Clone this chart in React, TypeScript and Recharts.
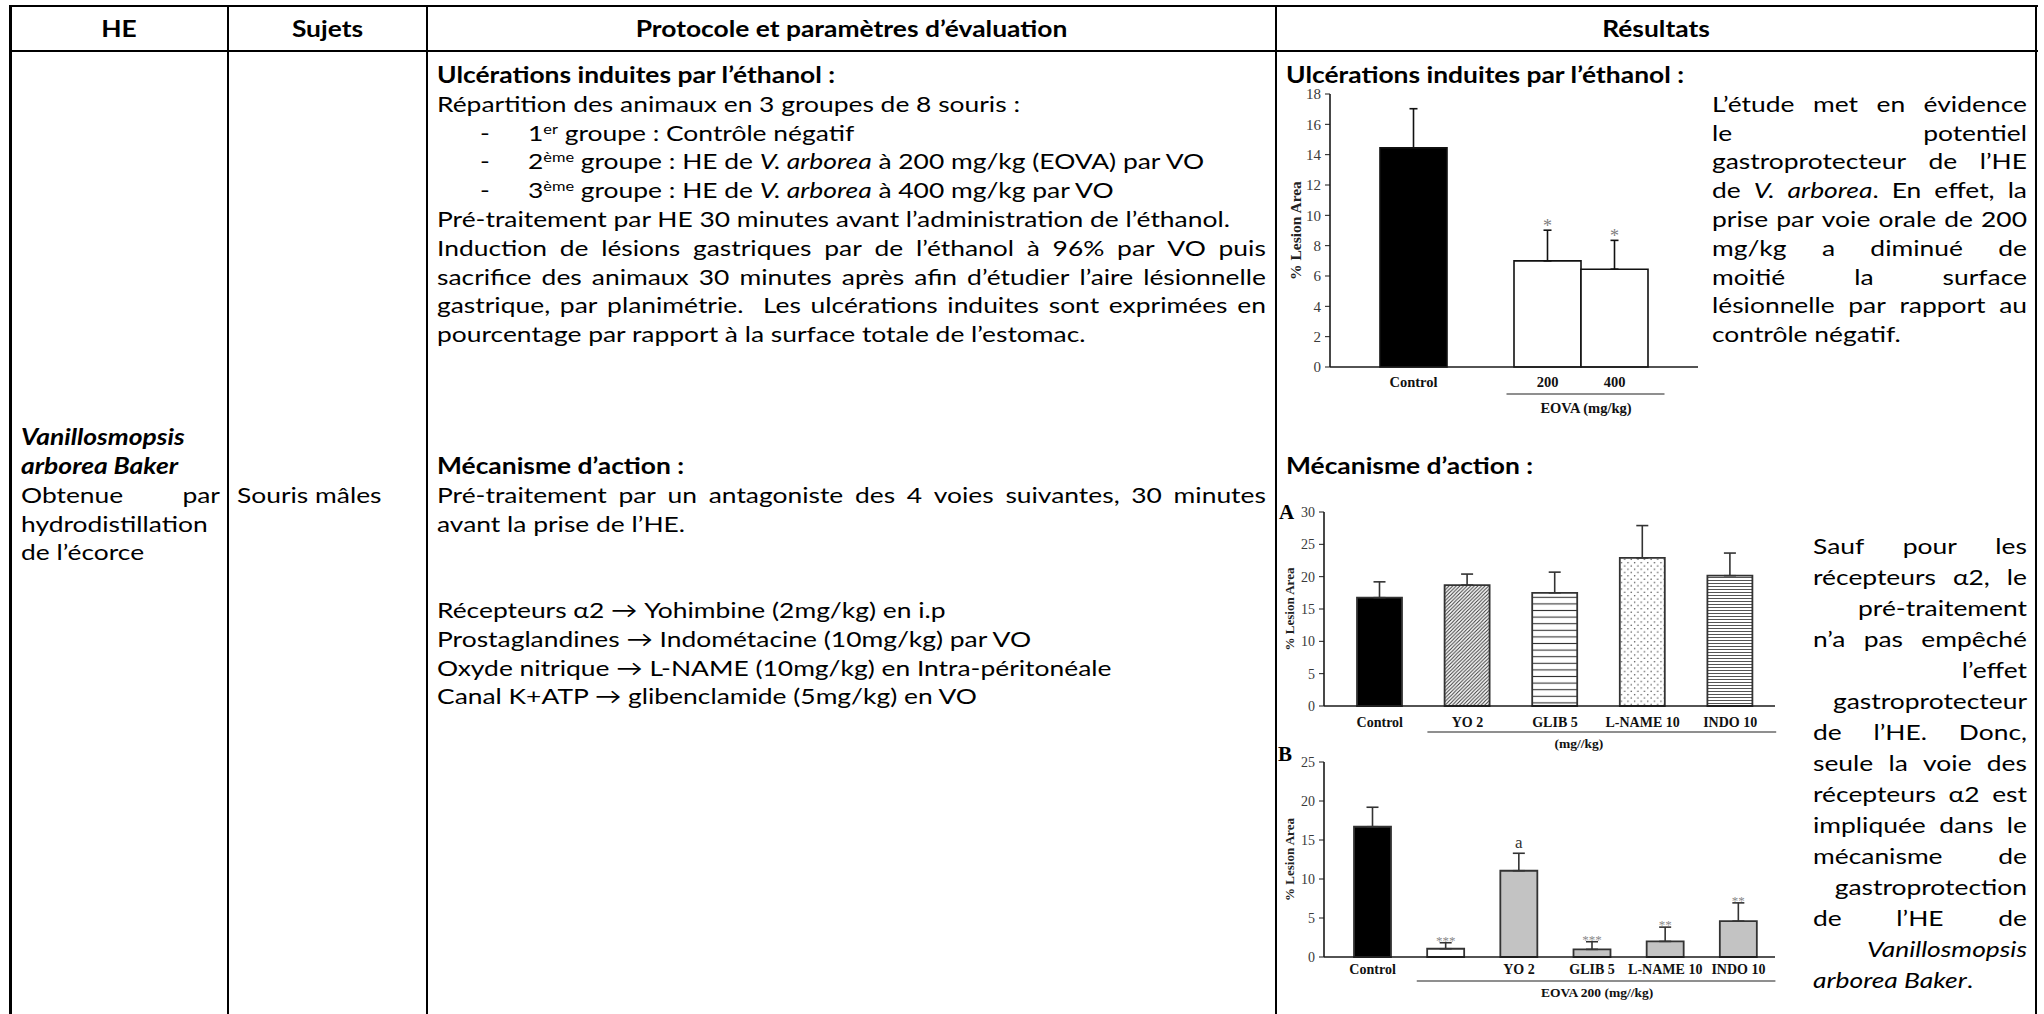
import React from 'react';
import { BarChart, Bar, XAxis, YAxis, ErrorBar, Cell, LabelList } from 'recharts';

/* ---------------- chart data ---------------- */
const ethCategories = ['Control', '', '200', '400'];
const ethMeans: (number | null)[] = [14.45, null, 7.0, 6.45];
const ethErrors: (number | null)[] = [2.58, null, 2.02, 1.9];
const ethSignif = ['', '', '*', '*'];
const ethTicks = [0, 2, 4, 6, 8, 10, 12, 14, 16, 18];

const mechACategories = ['Control', 'YO 2', 'GLIB 5', 'L-NAME 10', 'INDO 10'];
const mechAMeans = [16.75, 18.7, 17.5, 22.9, 20.15];
const mechAErrors = [2.45, 1.7, 3.2, 5.0, 3.5];
const mechATicks = [0, 5, 10, 15, 20, 25, 30];

const mechBCategories = ['Control', '', 'YO 2', 'GLIB 5', 'L-NAME 10', 'INDO 10'];
const mechBMeans = [16.7, 1.06, 11.06, 0.98, 2.0, 4.6];
const mechBErrors = [2.5, 0.77, 2.24, 0.98, 1.83, 2.34];
const mechBSignif = ['', '***', 'a', '***', '**', '**'];
const mechBTicks = [0, 5, 10, 15, 20, 25];

/* ---------------- styles ---------------- */
const ethFills = ['#000', '#fff', '#fff', '#fff'];
const mechAFills = ['#000', 'url(#patDiag)', 'url(#patLines)', 'url(#patDots)', 'url(#patDense)'];
const mechBFills = ['#000', '#fff', '#c3c3c3', '#c3c3c3', '#c3c3c3', '#c3c3c3'];

const SERIF = '"Liberation Serif", "Times New Roman", serif';
const SANS = 'Lato, "Open Sans", "DejaVu Sans", sans-serif';
const SX = 1.2;
const FS = 22;

/* ---------------- text helpers ---------------- */
function renderMarked(w: string) {
  const parts: React.ReactNode[] = [];
  let italic = false;
  let sup = false;
  let buf = '';
  const flush = () => {
    if (!buf) return;
    const style: React.CSSProperties = {};
    if (italic) style.fontStyle = 'italic';
    if (sup) {
      style.fontSize = '0.62em';
      style.verticalAlign = '0.55em';
      style.lineHeight = 0;
    }
    parts.push(
      <span key={parts.length} style={style}>
        {buf}
      </span>
    );
    buf = '';
  };
  for (const ch of w) {
    if (ch === '_') {
      flush();
      italic = !italic;
    } else if (ch === '^') {
      flush();
      sup = !sup;
    } else buf += ch;
  }
  flush();
  return parts;
}

type LineProps = { x: number; y: number; w: number; a?: 'l' | 'r' | 'j' | 'c'; t: string; b?: boolean; i?: boolean; fs?: number };

function TLine({ x, y, w, a = 'l', t, b = false, i = false, fs = FS }: LineProps) {
  const innerW = w / SX;
  let inner: React.ReactNode;
  if (a === 'j') {
    const words = t.split(' ');
    inner = (
      <div style={{ display: 'flex', justifyContent: 'space-between', width: innerW }}>
        {words.map((wd, k) => (
          <span key={k} style={{ whiteSpace: 'pre' }}>
            {renderMarked(wd)}
          </span>
        ))}
      </div>
    );
  } else {
    inner = (
      <div style={{ width: innerW, whiteSpace: 'pre', textAlign: a === 'r' ? 'right' : a === 'c' ? 'center' : 'left' }}>
        {renderMarked(t)}
      </div>
    );
  }
  return (
    <div
      style={{
        position: 'absolute',
        left: x,
        top: y - 15,
        height: 30,
        lineHeight: '30px',
        fontFamily: SANS,
        fontSize: fs,
        fontWeight: b ? 700 : 400,
        fontStyle: i ? 'italic' : 'normal',
        color: '#000',
        transform: `scaleX(${SX})`,
        transformOrigin: '0 0',
      }}
    >
      {inner}
    </div>
  );
}

/* ---------------- table layout ---------------- */
const COLS = [10, 228, 427, 1276, 2036];
const HEAD_TOP = 5;
const HEAD_BOTTOM = 50;
const Y0 = 75;
const DY = 28.8;
const YM = 466;
const RIGHT_TEXT = 2027;

const headers = ['HE', 'Sujets', 'Protocole et paramètres d’évaluation', 'Résultats'];

const protoTop: { t: string; b?: boolean; a?: 'l' | 'j'; bullet?: boolean }[] = [
  { t: 'Ulcérations induites par l’éthanol :', b: true },
  { t: 'Répartition des animaux en 3 groupes de 8 souris :' },
  { t: '1^er^ groupe : Contrôle négatif', bullet: true },
  { t: '2^ème^ groupe : HE de _V. arborea_ à 200 mg/kg (EOVA) par VO', bullet: true },
  { t: '3^ème^ groupe : HE de _V. arborea_ à 400 mg/kg par VO', bullet: true },
  { t: 'Pré-traitement par HE 30 minutes avant l’administration de l’éthanol.' },
  { t: 'Induction de lésions gastriques par de l’éthanol à 96% par VO puis', a: 'j' },
  { t: 'sacrifice des animaux 30 minutes après afin d’étudier l’aire lésionnelle', a: 'j' },
  { t: 'gastrique, par planimétrie.  Les ulcérations induites sont exprimées en', a: 'j' },
  { t: 'pourcentage par rapport à la surface totale de l’estomac.' },
];

const protoMech: { t: string; b?: boolean; a?: 'l' | 'j'; k: number }[] = [
  { t: 'Mécanisme d’action :', b: true, k: 0 },
  { t: 'Pré-traitement par un antagoniste des 4 voies suivantes, 30 minutes', a: 'j', k: 1 },
  { t: 'avant la prise de l’HE.', k: 2 },
  { t: 'Récepteurs α2 → Yohimbine (2mg/kg) en i.p', k: 5 },
  { t: 'Prostaglandines → Indométacine (10mg/kg) par VO', k: 6 },
  { t: 'Oxyde nitrique → L-NAME (10mg/kg) en Intra-péritonéale', k: 7 },
  { t: 'Canal K+ATP → glibenclamide (5mg/kg) en VO', k: 8 },
];

const heLines: { t: string; b?: boolean; i?: boolean; a?: 'l' | 'j' }[] = [
  { t: 'Vanillosmopsis', b: true, i: true },
  { t: 'arborea Baker', b: true, i: true },
  { t: 'Obtenue par', a: 'j' },
  { t: 'hydrodistillation' },
  { t: 'de l’écorce' },
];

const resTop: { t: string; a: 'l' | 'j' }[] = [
  { t: 'L’étude met en évidence', a: 'j' },
  { t: 'le potentiel', a: 'j' },
  { t: 'gastroprotecteur de l’HE', a: 'j' },
  { t: 'de _V._ _arborea_. En effet, la', a: 'j' },
  { t: 'prise par voie orale de 200', a: 'j' },
  { t: 'mg/kg a diminué de', a: 'j' },
  { t: 'moitié la surface', a: 'j' },
  { t: 'lésionnelle par rapport au', a: 'j' },
  { t: 'contrôle négatif.', a: 'l' },
];

const resBottom: { t: string; a: 'l' | 'j' | 'r' }[] = [
  { t: 'Sauf pour les', a: 'j' },
  { t: 'récepteurs α2, le', a: 'j' },
  { t: 'pré-traitement', a: 'r' },
  { t: 'n’a pas empêché', a: 'j' },
  { t: 'l’effet', a: 'r' },
  { t: 'gastroprotecteur', a: 'r' },
  { t: 'de l’HE. Donc,', a: 'j' },
  { t: 'seule la voie des', a: 'j' },
  { t: 'récepteurs α2 est', a: 'j' },
  { t: 'impliquée dans le', a: 'j' },
  { t: 'mécanisme de', a: 'j' },
  { t: 'gastroprotection', a: 'r' },
  { t: 'de l’HE de', a: 'j' },
  { t: '_Vanillosmopsis_', a: 'r' },
  { t: '_arborea Baker_.', a: 'l' },
];

/* ---------------- chart helpers ---------------- */
type TickCfg = {
  dyLabel: number;
  fontSize: number;
  band: number;
  first: number;
  last: number;
  label: string;
  extL: number;
  extR: number;
  labelDx: number;
  dyLine: number;
  dyText: number;
  groupSize: number;
};

function makeCategoryTick(cfg: TickCfg) {
  return (props: any) => {
    const { x, y, payload } = props;
    const index = props.index ?? payload?.index;
    const band = payload && payload.offset > 0 ? payload.offset * 2 : cfg.band;
    const isFirst = index === cfg.first;
    const xLast = x + (cfg.last - cfg.first) * band;
    return (
      <g>
        <text
          x={x}
          y={y + cfg.dyLabel}
          textAnchor="middle"
          dominantBaseline="central"
          fontFamily={SERIF}
          fontWeight={700}
          fontSize={cfg.fontSize}
          fill="#111"
        >
          {payload.value}
        </text>
        {isFirst && (
          <g>
            <line x1={x - cfg.extL} x2={xLast + cfg.extR} y1={y + cfg.dyLine} y2={y + cfg.dyLine} stroke="#6a6a6a" strokeWidth={1.6} />
            <text
              x={(x + xLast) / 2 + cfg.labelDx}
              y={y + cfg.dyText}
              textAnchor="middle"
              dominantBaseline="central"
              fontFamily={SERIF}
              fontWeight={700}
              fontSize={cfg.groupSize}
              fill="#111"
            >
              {cfg.label}
            </text>
          </g>
        )}
      </g>
    );
  };
}

// sig values are encoded as "index|label" so the renderer can find the matching error
function makeSigLabel(means: (number | null)[], errors: (number | null)[], size: number, color: string) {
  return (props: any) => {
    const raw = props.value;
    if (!raw || typeof raw !== 'string') return null;
    const [idxStr, label] = raw.split('|');
    const idx = Number(idxStr);
    if (!label) return null;
    const vb = props.viewBox ?? props;
    const x = Number(vb.x ?? props.x);
    const y = Number(vb.y ?? props.y);
    const w = Number(vb.width ?? props.width);
    const h = Number(vb.height ?? props.height);
    const m = means[idx];
    const e = errors[idx];
    if (!m || e == null) return null;
    const ppu = Math.abs(h) / m;
    const top = Math.min(y, y + h);
    const capY = top - e * ppu;
    const isLetter = /[a-z]/i.test(label);
    return (
      <text
        x={x + w / 2}
        y={isLetter ? capY - 5 : capY + 2}
        textAnchor="middle"
        fontFamily={SERIF}
        fontSize={isLetter ? 17 : size}
        fill={isLetter ? '#333' : color}
      >
        {label}
      </text>
    );
  };
}

function makeYLabel(dx: number, size: number) {
  return (props: any) => {
    const vb = props.viewBox || {};
    const cx = (vb.x ?? 0) + dx;
    const cy = (vb.y ?? 0) + (vb.height ?? 0) / 2;
    return (
      <text
        x={cx}
        y={cy}
        transform={`rotate(-90 ${cx} ${cy})`}
        textAnchor="middle"
        dominantBaseline="central"
        fontFamily={SERIF}
        fontWeight={700}
        fontSize={size}
        fill="#222"
      >
        % Lesion Area
      </text>
    );
  };
}

const axisLine = { stroke: '#1a1a1a', strokeWidth: 1.6 };
const tickStyle = { fontFamily: SERIF, fontSize: 14, fill: '#3a3a3a' };
const tickStyleLarge = { fontFamily: SERIF, fontSize: 15, fill: '#3a3a3a' };

function EthanolChart() {
  const data = ethCategories.map((name, i) => ({
    name,
    value: ethMeans[i],
    err: ethErrors[i] == null ? null : [0, ethErrors[i] as number],
    sig: ethSignif[i] ? `${i}|${ethSignif[i]}` : '',
  }));
  const tick = makeCategoryTick({
    dyLabel: 15,
    fontSize: 14.5,
    band: 67,
    first: 2,
    last: 3,
    label: 'EOVA (mg/kg)',
    extL: 41,
    extR: 50,
    labelDx: 5,
    dyLine: 27,
    dyText: 41,
    groupSize: 14.5,
  });
  return (
    <div style={{ position: 'absolute', left: 1270, top: 84 }}>
      <BarChart width={440} height={340} data={data} margin={{ top: 10, right: 12, left: 0, bottom: 0 }} barCategoryGap={0}>
        <XAxis
          dataKey="name"
          interval={0}
          tickLine={false}
          tickSize={0}
          tickMargin={0}
          height={57}
          padding={{ left: 50, right: 50 }}
          axisLine={axisLine}
          tick={tick}
        />
        <YAxis
          domain={[0, 18]}
          ticks={ethTicks}
          interval={0}
          width={60}
          tickSize={5}
          tickMargin={4}
          axisLine={axisLine}
          tickLine={{ stroke: '#1a1a1a' }}
          tick={tickStyleLarge}
          label={{ content: makeYLabel(25, 15.5) } as any}
        />
        <Bar dataKey="value" isAnimationActive={false} stroke="#111" strokeWidth={1.6}>
          {data.map((d, i) => (
            <Cell key={i} fill={ethFills[i]} />
          ))}
          <ErrorBar dataKey="err" width={4} strokeWidth={1.6} stroke="#111" direction="y" />
          <LabelList dataKey="sig" content={makeSigLabel(ethMeans, ethErrors, 18, '#808080')} />
        </Bar>
      </BarChart>
    </div>
  );
}

function MechAChart() {
  const data = mechACategories.map((name, i) => ({
    name,
    value: mechAMeans[i],
    err: [0, mechAErrors[i]],
  }));
  const tick = makeCategoryTick({
    dyLabel: 16,
    fontSize: 14,
    band: 87.6,
    first: 1,
    last: 4,
    label: '(mg//kg)',
    extL: 40,
    extR: 46,
    labelDx: -20,
    dyLine: 26,
    dyText: 37,
    groupSize: 13.5,
  });
  return (
    <div style={{ position: 'absolute', left: 1270, top: 495 }}>
      <BarChart width={520} height={262} data={data} margin={{ top: 17, right: 15, left: 0, bottom: 0 }} barSize={45}>
        <XAxis
          dataKey="name"
          interval={0}
          tickLine={false}
          tickSize={0}
          tickMargin={0}
          height={51}
          padding={{ left: 12, right: 1 }}
          axisLine={axisLine}
          tick={tick}
        />
        <YAxis
          domain={[0, 30]}
          ticks={mechATicks}
          interval={0}
          width={54}
          tickSize={5}
          tickMargin={4}
          axisLine={axisLine}
          tickLine={{ stroke: '#1a1a1a' }}
          tick={tickStyle}
          label={{ content: makeYLabel(19, 13) } as any}
        />
        <Bar dataKey="value" isAnimationActive={false} stroke="#333" strokeWidth={1.8}>
          {data.map((d, i) => (
            <Cell key={i} fill={mechAFills[i]} />
          ))}
          <ErrorBar dataKey="err" width={6} strokeWidth={1.6} stroke="#333" direction="y" />
        </Bar>
      </BarChart>
    </div>
  );
}

function MechBChart() {
  const data = mechBCategories.map((name, i) => ({
    name,
    value: mechBMeans[i],
    err: [0, mechBErrors[i]],
    sig: mechBSignif[i] ? `${i}|${mechBSignif[i]}` : '',
  }));
  const tick = makeCategoryTick({
    dyLabel: 12,
    fontSize: 14,
    band: 73.1,
    first: 1,
    last: 5,
    label: 'EOVA 200  (mg//kg)',
    extL: 29,
    extR: 37,
    labelDx: 5,
    dyLine: 24,
    dyText: 35,
    groupSize: 13.5,
  });
  return (
    <div style={{ position: 'absolute', left: 1270, top: 745 }}>
      <BarChart width={520} height={262} data={data} margin={{ top: 17, right: 15, left: 0, bottom: 0 }} barSize={37}>
        <XAxis
          dataKey="name"
          interval={0}
          tickLine={false}
          tickSize={0}
          tickMargin={0}
          height={50}
          padding={{ left: 12, right: 0 }}
          axisLine={axisLine}
          tick={tick}
        />
        <YAxis
          domain={[0, 25]}
          ticks={mechBTicks}
          interval={0}
          width={54}
          tickSize={5}
          tickMargin={4}
          axisLine={axisLine}
          tickLine={{ stroke: '#1a1a1a' }}
          tick={tickStyle}
          label={{ content: makeYLabel(19, 13) } as any}
        />
        <Bar dataKey="value" isAnimationActive={false} stroke="#333" strokeWidth={1.8}>
          {data.map((d, i) => (
            <Cell key={i} fill={mechBFills[i]} />
          ))}
          <ErrorBar dataKey="err" width={6} strokeWidth={1.6} stroke="#333" direction="y" />
          <LabelList dataKey="sig" content={makeSigLabel(mechBMeans, mechBErrors, 13, '#8a8a8a')} />
        </Bar>
      </BarChart>
    </div>
  );
}

function Patterns() {
  return (
    <svg width={0} height={0} style={{ position: 'absolute', left: 0, top: 0 }}>
      <defs>
        <pattern id="patDiag" patternUnits="userSpaceOnUse" width={3.6} height={3.6}>
          <rect width={3.6} height={3.6} fill="#fff" />
          <path d="M-0.9,0.9 L0.9,-0.9 M0,3.6 L3.6,0 M2.7,4.5 L4.5,2.7" stroke="#333" strokeWidth={1} />
        </pattern>
        <pattern id="patLines" patternUnits="userSpaceOnUse" width={6} height={6.6}>
          <rect width={6} height={6.6} fill="#fff" />
          <line x1={0} y1={3.3} x2={6} y2={3.3} stroke="#333" strokeWidth={1.1} />
        </pattern>
        <pattern id="patDots" patternUnits="userSpaceOnUse" width={6.6} height={6.6}>
          <rect width={6.6} height={6.6} fill="#fff" />
          <circle cx={1.6} cy={1.6} r={0.75} fill="#444" />
          <circle cx={4.9} cy={4.9} r={0.75} fill="#444" />
        </pattern>
        <pattern id="patDense" patternUnits="userSpaceOnUse" width={6} height={3}>
          <rect width={6} height={3} fill="#fff" />
          <line x1={0} y1={1.5} x2={6} y2={1.5} stroke="#555" strokeWidth={1} />
        </pattern>
      </defs>
    </svg>
  );
}

function Rule({ x, y, w, h }: { x: number; y: number; w: number; h: number }) {
  return <div style={{ position: 'absolute', left: x, top: y, width: w, height: h, background: '#000' }} />;
}

export default function App() {
  const colW = (i: number) => COLS[i + 1] - COLS[i];
  return (
    <div style={{ position: 'absolute', left: 0, top: 0, width: 2044, height: 1014, overflow: 'hidden', background: '#fff' }}>
      <Patterns />
      {/* table rules */}
      <Rule x={COLS[0] - 1} y={HEAD_TOP} w={COLS[4] - COLS[0] + 3} h={2} />
      <Rule x={COLS[0] - 1} y={HEAD_BOTTOM} w={COLS[4] - COLS[0] + 3} h={2} />
      <Rule x={COLS[0] - 1} y={HEAD_TOP} w={3} h={1014} />
      {COLS.slice(1).map((c, i) => (
        <Rule key={i} x={c - 1} y={HEAD_TOP} w={2} h={1014} />
      ))}

      {/* headers */}
      {headers.map((h, i) => (
        <TLine key={i} x={COLS[i]} y={(HEAD_TOP + HEAD_BOTTOM) / 2 + 1} w={colW(i)} a="c" t={h} b />
      ))}

      {/* HE column */}
      {heLines.map((l, k) => (
        <TLine key={k} x={21} y={YM - DY + k * DY} w={199} a={l.a} t={l.t} b={l.b} i={l.i} />
      ))}

      {/* Sujets */}
      <TLine x={237} y={YM + DY} w={180} t="Souris mâles" />

      {/* Protocol column */}
      {protoTop.map((l, k) =>
        l.bullet ? (
          <React.Fragment key={k}>
            <TLine x={480} y={Y0 + k * DY} w={20} t="-" />
            <TLine x={528} y={Y0 + k * DY} w={730} t={l.t} />
          </React.Fragment>
        ) : (
          <TLine key={k} x={437} y={Y0 + k * DY} w={829} a={l.a} t={l.t} b={l.b} />
        )
      )}
      {protoMech.map((l, k) => (
        <TLine key={'m' + k} x={437} y={YM + l.k * DY} w={829} a={l.a} t={l.t} b={l.b} />
      ))}

      {/* Results column */}
      <TLine x={1286} y={Y0} w={600} t="Ulcérations induites par l’éthanol :" b />
      {resTop.map((l, k) => (
        <TLine key={'rt' + k} x={1712} y={Y0 + (k + 1) * DY} w={RIGHT_TEXT - 1712} a={l.a} t={l.t} />
      ))}
      <TLine x={1286} y={YM} w={600} t="Mécanisme d’action :" b />
      {resBottom.map((l, k) => (
        <TLine key={'rb' + k} x={1813} y={546 + k * 31} w={RIGHT_TEXT - 1813} a={l.a} t={l.t} />
      ))}

      {/* charts */}
      <EthanolChart />
      <MechAChart />
      <MechBChart />
      <div style={{ position: 'absolute', left: 1279, top: 500, fontFamily: SERIF, fontWeight: 700, fontSize: 21, lineHeight: '24px' }}>A</div>
      <div style={{ position: 'absolute', left: 1278, top: 742, fontFamily: SERIF, fontWeight: 700, fontSize: 21, lineHeight: '24px' }}>B</div>
    </div>
  );
}
